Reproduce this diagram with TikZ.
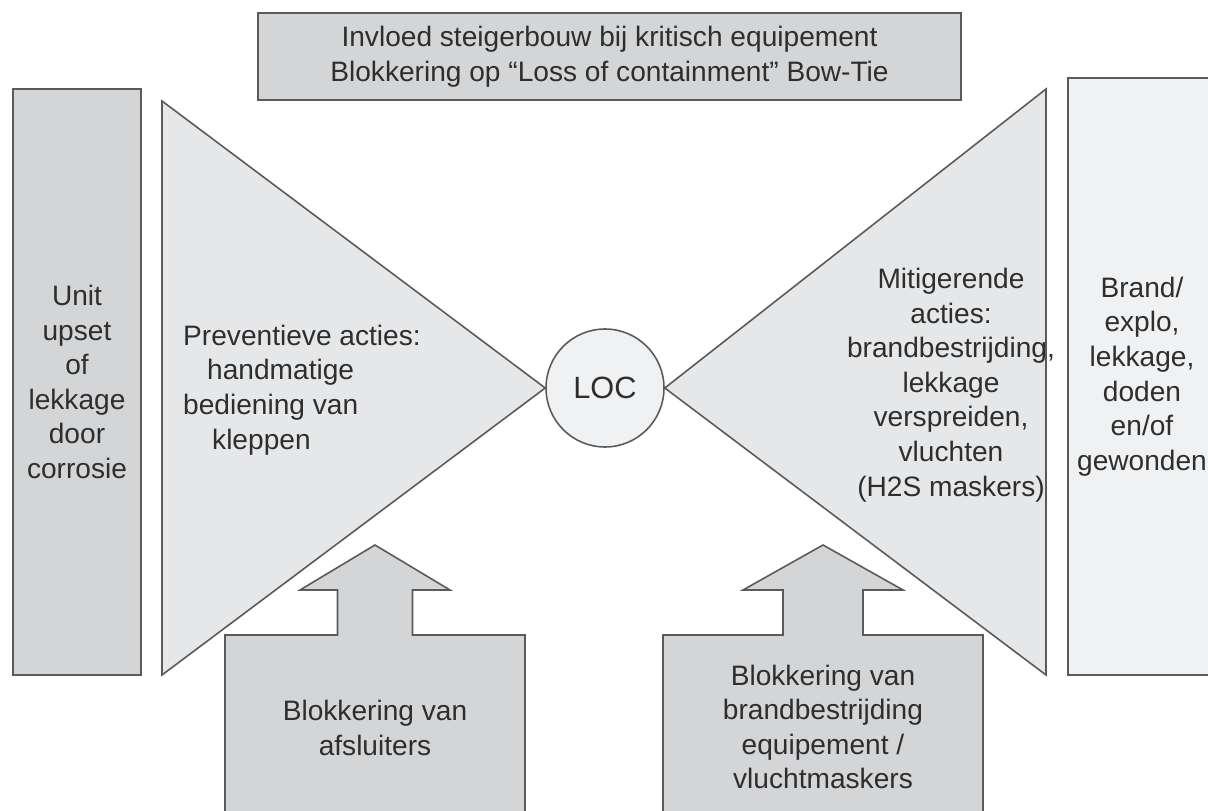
\documentclass[tikz,border=0pt]{standalone}
\usepackage{fontspec}
\setmainfont{Liberation Sans}
\usepackage{tikz}
\usetikzlibrary{positioning}

\definecolor{boxgray}{HTML}{D4D5D7}
\definecolor{tiegray}{HTML}{E6E7E9}
\definecolor{palegray}{HTML}{F0F1F3}
\definecolor{edgegray}{HTML}{5A5A5A}
\definecolor{textgray}{HTML}{2E2E2E}

\begin{document}
\begin{tikzpicture}[x=0.02cm, y=-0.02cm,
    every node/.style={text=textgray, font=\fontsize{16}{19.7}\selectfont, align=center},
    outline/.style={draw=edgegray, line width=0.9pt},
    greybox/.style={outline, fill=boxgray, inner sep=0pt},
    palebox/.style={outline, fill=palegray, inner sep=0pt}]
    %
    \clip (0,0) rectangle (1208,811);

    % 
    \node[greybox, minimum width=14.06cm, minimum height=1.74cm] (title) at (609.5,56.5)
        {Invloed steigerbouw bij kritisch equipement\\Blokkering op \textquotedblleft Loss of containment\textquotedblright\ Bow-Tie};

    % 
    \node[greybox, minimum width=2.56cm, minimum height=11.72cm] (cause) at (77,382)
        {Unit\\upset\\of\\lekkage\\door\\corrosie};
    \node[palebox, minimum width=2.96cm, minimum height=11.94cm] (effect) at (1142,376.5)
        {Brand/\\explo,\\lekkage,\\doden\\en/of\\gewonden};

    % 
    \node[circle, palebox, minimum size=2.36cm, font=\fontsize{17.5}{21}\selectfont] (loc) at (605,388) {LOC};

    % 
    \draw[outline, fill=tiegray] (162,101) -- (162,675) -- (loc.west) -- cycle;
    \draw[outline, fill=tiegray] (1046,89) -- (1046,675) -- (loc.east) -- cycle;

    \node[align=left, anchor=west] (prev) at (177,390)
        {Preventieve acties:\\\hspace{0.48cm}handmatige\\bediening van\\\hspace{0.58cm}kleppen};
    \node (mitig) at (951,385)
        {Mitigerende\\acties:\\brandbestrijding,\\lekkage\\verspreiden,\\vluchten\\(H2S maskers)};

    % 
    \foreach \x/\w in {375/150, 823/160} {
        \draw[outline, fill=boxgray]
            (\x-\w,815) -- (\x-\w,635) -- (\x-\w/4,635) -- (\x-\w/4,590) -- (\x-\w/2,590)
            -- (\x,545) -- (\x+\w/2,590) -- (\x+\w/4,590) -- (\x+\w/4,635) -- (\x+\w,635) -- (\x+\w,815);
    }
    \node (block1) at (375,728) {Blokkering van\\afsluiters};
    \node (block2) at (823,727) {Blokkering van\\brandbestrijding\\equipement /\\vluchtmaskers};
\end{tikzpicture}
\end{document}
